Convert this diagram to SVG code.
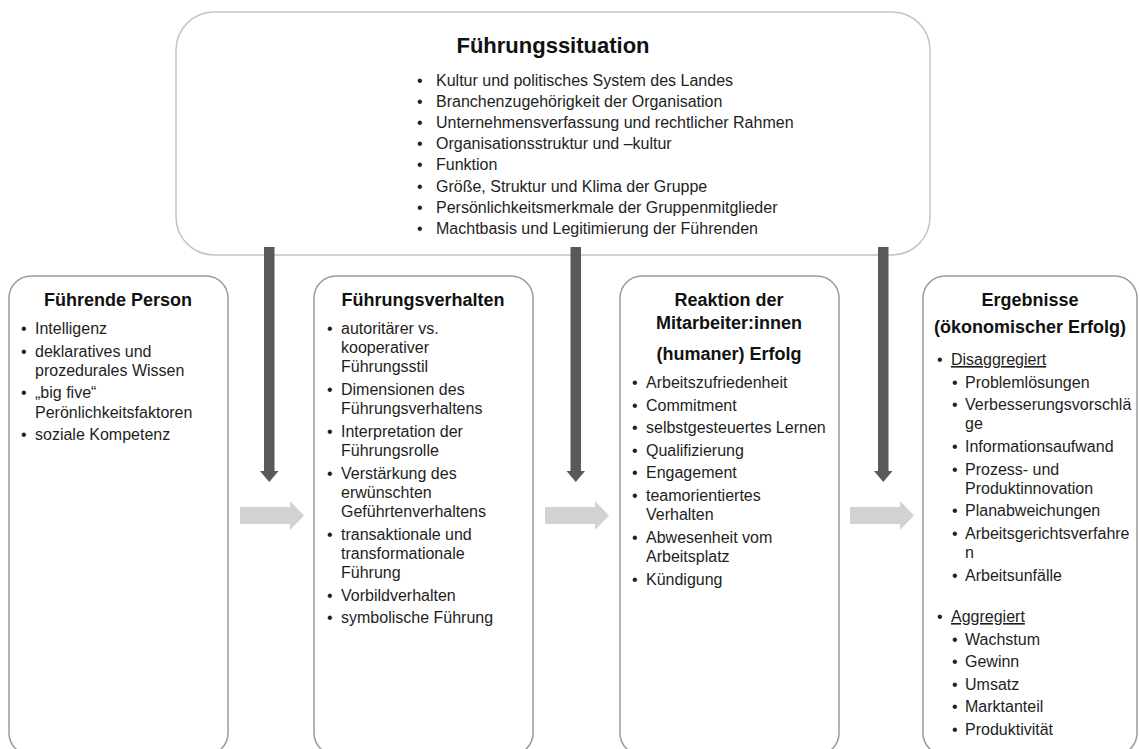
<svg xmlns="http://www.w3.org/2000/svg" width="1139" height="749" viewBox="0 0 1139 749">
<style>
.box{fill:#fff;stroke:#9a9a9a;stroke-width:1.5}
.top{fill:#fff;stroke:#c4c4c4;stroke-width:1.5}
.t{font-family:"Liberation Sans",Arial,sans-serif;font-size:16px;fill:#1e1e1e}
.tt{font-family:"Liberation Sans",Arial,sans-serif;font-size:16px;fill:#1e1e1e}
.h{font-family:"Liberation Sans",Arial,sans-serif;font-size:18px;font-weight:bold;fill:#111;text-anchor:middle}
.hh{font-family:"Liberation Sans",Arial,sans-serif;font-size:22px;font-weight:bold;fill:#111;text-anchor:middle}
.u{text-decoration:underline}
.dark{fill:#595959}
.light{fill:#d2d2d2}
</style>
<rect width="1139" height="749" fill="#fff"/>

<g id="fuehrungssituation">
<rect class="top" x="176" y="12" width="754" height="243" rx="38" ry="38"/>
<text class="hh" x="553" y="53">Führungssituation</text>
<g class="tt">
<text x="417" y="85.5">•</text><text x="417" y="106.7">•</text><text x="417" y="127.9">•</text><text x="417" y="149.1">•</text>
<text x="417" y="170.3">•</text><text x="417" y="191.5">•</text><text x="417" y="212.7">•</text><text x="417" y="233.9">•</text>
<text x="436" y="85.5">Kultur und politisches System des Landes</text>
<text x="436" y="106.7">Branchenzugehörigkeit der Organisation</text>
<text x="436" y="127.9">Unternehmensverfassung und rechtlicher Rahmen</text>
<text x="436" y="149.1">Organisationsstruktur und –kultur</text>
<text x="436" y="170.3">Funktion</text>
<text x="436" y="191.5">Größe, Struktur und Klima der Gruppe</text>
<text x="436" y="212.7">Persönlichkeitsmerkmale der Gruppenmitglieder</text>
<text x="436" y="233.9">Machtbasis und Legitimierung der Führenden</text>
</g>
</g>

<g id="fuehrende-person">
<rect class="box" x="9" y="276" width="219" height="479" rx="22" ry="22"/>
<text class="h" x="118" y="306">Führende Person</text>
<g class="t">
<text x="21" y="334">•</text><text x="35" y="334">Intelligenz</text>
<text x="21" y="356.6">•</text><text x="35" y="356.6">deklaratives und</text>
<text x="35" y="375.8">prozedurales Wissen</text>
<text x="21" y="398.4">•</text><text x="35" y="398.4">„big five“</text>
<text x="35" y="417.6">Perönlichkeitsfaktoren</text>
<text x="21" y="440.2">•</text><text x="35" y="440.2">soziale Kompetenz</text>
</g>
</g>

<g id="fuehrungsverhalten">
<rect class="box" x="314" y="276" width="219" height="479" rx="22" ry="22"/>
<text class="h" x="423" y="306">Führungsverhalten</text>
<g class="t">
<text x="327" y="334">•</text><text x="341" y="334">autoritärer vs.</text>
<text x="341" y="353.2">kooperativer</text>
<text x="341" y="372.4">Führungsstil</text>
<text x="327" y="395">•</text><text x="341" y="395">Dimensionen des</text>
<text x="341" y="414.2">Führungsverhaltens</text>
<text x="327" y="436.8">•</text><text x="341" y="436.8">Interpretation der</text>
<text x="341" y="456">Führungsrolle</text>
<text x="327" y="478.6">•</text><text x="341" y="478.6">Verstärkung des</text>
<text x="341" y="497.8">erwünschten</text>
<text x="341" y="517">Geführtenverhaltens</text>
<text x="327" y="539.6">•</text><text x="341" y="539.6">transaktionale und</text>
<text x="341" y="558.8">transformationale</text>
<text x="341" y="578">Führung</text>
<text x="327" y="600.6">•</text><text x="341" y="600.6">Vorbildverhalten</text>
<text x="327" y="623.2">•</text><text x="341" y="623.2">symbolische Führung</text>
</g>
</g>

<g id="reaktion-mitarbeiter">
<rect class="box" x="620" y="276" width="219" height="479" rx="22" ry="22"/>
<text class="h" x="729" y="306">Reaktion der</text>
<text class="h" x="729" y="329">Mitarbeiter:innen</text>
<text class="h" x="729" y="360">(humaner) Erfolg</text>
<g class="t">
<text x="632" y="388">•</text><text x="646" y="388">Arbeitszufriedenheit</text>
<text x="632" y="410.6">•</text><text x="646" y="410.6">Commitment</text>
<text x="632" y="433.2">•</text><text x="646" y="433.2">selbstgesteuertes Lernen</text>
<text x="632" y="455.8">•</text><text x="646" y="455.8">Qualifizierung</text>
<text x="632" y="478.4">•</text><text x="646" y="478.4">Engagement</text>
<text x="632" y="501">•</text><text x="646" y="501">teamorientiertes</text>
<text x="646" y="520.2">Verhalten</text>
<text x="632" y="542.8">•</text><text x="646" y="542.8">Abwesenheit vom</text>
<text x="646" y="562">Arbeitsplatz</text>
<text x="632" y="584.6">•</text><text x="646" y="584.6">Kündigung</text>
</g>
</g>

<g id="ergebnisse">
<rect class="box" x="923" y="276" width="214" height="479" rx="22" ry="22"/>
<text class="h" x="1030" y="306">Ergebnisse</text>
<text class="h" x="1030" y="333">(ökonomischer Erfolg)</text>
<g class="t">
<text x="937" y="365">•</text><text x="951" y="365" class="u">Disaggregiert</text>
<text x="952" y="387.6">•</text><text x="965" y="387.6">Problemlösungen</text>
<text x="952" y="410.2">•</text><text x="965" y="410.2">Verbesserungsvorschlä</text>
<text x="965" y="429.4">ge</text>
<text x="952" y="452">•</text><text x="965" y="452">Informationsaufwand</text>
<text x="952" y="474.6">•</text><text x="965" y="474.6">Prozess- und</text>
<text x="965" y="493.8">Produktinnovation</text>
<text x="952" y="516.4">•</text><text x="965" y="516.4">Planabweichungen</text>
<text x="952" y="539">•</text><text x="965" y="539">Arbeitsgerichtsverfahre</text>
<text x="965" y="558.2">n</text>
<text x="952" y="580.8">•</text><text x="965" y="580.8">Arbeitsunfälle</text>
<text x="937" y="622">•</text><text x="951" y="622" class="u">Aggregiert</text>
<text x="952" y="644.6">•</text><text x="965" y="644.6">Wachstum</text>
<text x="952" y="667.2">•</text><text x="965" y="667.2">Gewinn</text>
<text x="952" y="689.8">•</text><text x="965" y="689.8">Umsatz</text>
<text x="952" y="712.4">•</text><text x="965" y="712.4">Marktanteil</text>
<text x="952" y="735">•</text><text x="965" y="735">Produktivität</text>
</g>
</g>

<g id="connectors">
<polygon class="dark" points="264,247 274.5,247 274.5,471 278.5,471 269.25,482 260,471 264,471"/>
<polygon class="dark" points="570.5,247 581,247 581,471 585,471 575.75,482 566.5,471 570.5,471"/>
<polygon class="dark" points="878,247 888.5,247 888.5,471 892.5,471 883.25,482 874,471 878,471"/>
<polygon class="light" points="240,507 290,507 290,501 304,515.5 290,530 290,524 240,524"/>
<polygon class="light" points="545,507 595,507 595,501 609,515.5 595,530 595,524 545,524"/>
<polygon class="light" points="850,507 900,507 900,501 914,515.5 900,530 900,524 850,524"/>
</g>
</svg>
